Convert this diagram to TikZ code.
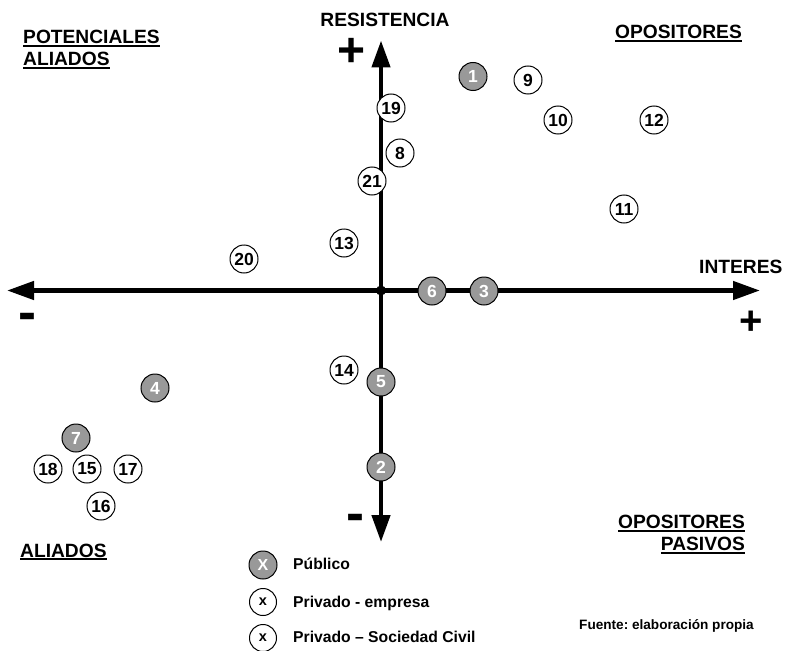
\documentclass[tikz,border=0pt]{standalone}
\usepackage{fontspec}
\setmainfont{Liberation Sans}
\usetikzlibrary{arrows.meta}
\newcommand{\subr}[1]{{\setbox0\hbox{#1}\rlap{\rule[-3pt]{\wd0}{1.8pt}}\box0}}
\frenchspacing

\begin{document}
\begin{tikzpicture}[x=1pt,y=-1pt,
        eje/.style={line width=4.5pt,-{Triangle[length=27pt,width=18pt]}},
        privado/.style={circle,draw,line width=1pt,fill=white,minimum size=28pt,inner sep=0pt,
            font=\fontsize{17.5}{17.5}\selectfont\bfseries},
        publico/.style={privado,fill=black!40,text=white},
        titulo/.style={inner sep=0pt,align=left,font=\fontsize{19.2}{22}\selectfont\bfseries},
        signo/.style={inner sep=0pt,font=\fontsize{48}{48}\selectfont\bfseries},
        leyenda/.style={inner sep=0pt,anchor=base west,font=\fontsize{15.7}{15.7}\selectfont\bfseries}]
                        \useasboundingbox (0,0) rectangle (786,650);
                        % ejes
                        \coordinate (o) at (381,290.5);
                        \coordinate (arriba) at (381,40.5);
                        \coordinate (abajo) at (381,542);
                        \coordinate (izq) at (7,290.5);
                        \coordinate (der) at (760,290.5);
                        \draw[eje] (o) -- (arriba);
                        \draw[eje] (o) -- (abajo);
                        \draw[eje] (o) -- (izq);
                        \draw[eje] (o) -- (der);
                        \fill (o) circle (5pt);
                        \node[titulo, anchor=base] (resist) at (385,27) {RESISTENCIA};
                        \node[titulo, anchor=base west] (interes) at (699,273) {INTERES};
                        \node[signo, anchor=base] (masR) at (352,67) {+};
                        \node[signo, anchor=base, font=\fontsize{40}{40}\selectfont\bfseries] (masI) at (751,334) {+};
                        \node[signo, anchor=base, font=\fontsize{54}{54}\selectfont\bfseries] (menosI) at (27,330) {-};
                        \node[signo, anchor=base, font=\fontsize{54}{54}\selectfont\bfseries] (menosR) at (355,531) {-};
                        % cuadrantes
                        \node[titulo, anchor=north west] (potenciales) at (23,30) {\subr{POTENCIALES}\\\subr{ALIADOS}};
                        \node[titulo, anchor=base west] (opositores) at (615,39) {\subr{OPOSITORES}};
                        \node[titulo, anchor=base west] (aliados) at (20,557) {\subr{ALIADOS}};
                        \node[titulo, anchor=north east, align=right] (pasivos) at (745,515) {\subr{OPOSITORES}\\\subr{PASIVOS}};
                        % actores
                        \foreach \n/\x/\y in {1/473/76.5, 6/432/291, 3/484/291, 5/381/382, 4/155/388, 7/76/438, 2/381/467}
                        {
                            \node[publico] (a\n) at (\x,\y) {\n};
                        }
                        \foreach \n/\x/\y in {9/528/80, 10/558/120, 12/654/120, 19/391/108, 8/400/153, 21/372/181,
                            11/624/209, 13/344/243, 20/244/259, 14/344/370, 18/48/469, 15/87/469, 17/128/469, 16/101/506}
                        {
                            \node[privado] (a\n) at (\x,\y) {\n};
                        }
                        % leyenda
                        \node[publico, font=\fontsize{16}{16}\selectfont\bfseries] (leyPub) at (263,565) {X};
                        \node[privado, minimum size=27pt, font=\fontsize{14.5}{14.5}\selectfont\bfseries] (leyEmp) at (263,602) {x};
                        \node[privado, minimum size=27pt, font=\fontsize{14.5}{14.5}\selectfont\bfseries] (leySoc) at (263,638) {x};
                        \node[leyenda] (txtPub) at (293,569) {Público};
                        \node[leyenda] (txtEmp) at (293,607) {Privado - empresa};
                        \node[leyenda] (txtSoc) at (293,642) {Privado -- Sociedad Civil};
                        \node[leyenda, font=\fontsize{13.6}{13.6}\selectfont\bfseries] (fuente) at (579,629) {Fuente: elaboración propia};
                    \end{tikzpicture}
\end{document}
